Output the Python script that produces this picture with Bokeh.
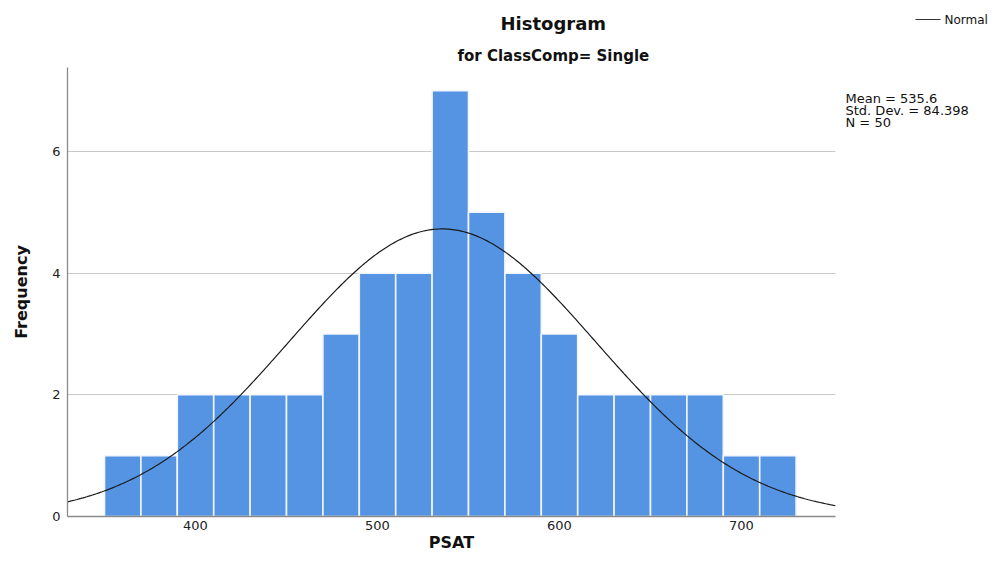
import numpy as np
from bokeh.plotting import figure
from bokeh.layouts import row
from bokeh.models import FixedTicker, Range1d, Title
from bokeh.core.properties import value
from bokeh.embed import file_html
from bokeh.resources import INLINE

# ---- data ----
bin_left = [350, 370, 390, 410, 430, 450, 470, 490, 510, 530,
            550, 570, 590, 610, 630, 650, 670, 690, 710]
bin_width = 20
counts = [1, 1, 2, 2, 2, 2, 3, 4, 4, 7, 5, 4, 3, 2, 2, 2, 2, 1, 1]
MEAN = 535.6
SD = 84.398
N = 50
x_ticks = [400, 500, 600, 700]
y_ticks = [0, 2, 4, 6]
title = "Histogram"
subtitle = "for ClassComp= Single"
stats = ["Mean = 535.6", "Std. Dev. = 84.398", "N = 50"]
x_label = "PSAT"
y_label = "Frequency"
curve_label = "Normal"

FONT = "DejaVu Sans"
X0, X1 = 329.67, 751.65
Y0, Y1 = 0, 7.38

H = 555
W_MAIN = 840
W_SIDE = 989 - W_MAIN
FL, FT = 67, 67
FR = W_MAIN - 835
FB = H - 516

p = figure(width=W_MAIN, height=H, output_backend="svg", toolbar_location=None,
           title=None, frame_align=False,
           x_range=Range1d(X0, X1), y_range=Range1d(Y0, Y1),
           min_border_left=FL, min_border_right=FR,
           min_border_top=FT, min_border_bottom=FB)
p.outline_line_color = None
p.background_fill_color = "white"
p.border_fill_color = "white"

# bars
lefts = np.array(bin_left, dtype=float)
p.quad(left=lefts, right=lefts + bin_width, bottom=0, top=counts,
       fill_color="#5594E2", line_color="#F2F6FC", line_width=1.6)

# normal curve from the shown statistics
xs = np.linspace(X0, X1, 400)
ys = N * bin_width / (SD * np.sqrt(2 * np.pi)) * np.exp(-0.5 * ((xs - MEAN) / SD) ** 2)
p.line(xs, ys, line_color="#1a1a1a", line_width=1.2)

# axes
p.xaxis.ticker = FixedTicker(ticks=x_ticks)
p.yaxis.ticker = FixedTicker(ticks=y_ticks)
for ax in (p.xaxis, p.yaxis):
    ax.major_tick_line_color = None
    ax.minor_tick_line_color = None
    ax.major_tick_out = 0
    ax.major_tick_in = 0
    ax.axis_line_color = "#8a8a8a"
    ax.axis_line_width = 1.3
    ax.major_label_text_font = FONT
    ax.major_label_text_font_size = "13px"
    ax.major_label_text_color = "#222222"
    ax.axis_label_text_font = FONT
    ax.axis_label_text_font_style = "bold"
    ax.axis_label_text_color = "#111111"
p.xaxis.major_label_standoff = 4
p.yaxis.major_label_standoff = 7
p.xaxis.axis_label = x_label
p.yaxis.axis_label = y_label
p.xaxis.axis_label_text_font_size = "16px"
p.yaxis.axis_label_text_font_size = "16px"
p.xaxis.axis_label_standoff = 0
p.yaxis.axis_label_standoff = 18

p.xgrid.grid_line_color = None
p.ygrid.grid_line_color = "#c8c8c8"
p.ygrid.grid_line_width = 1.2

# titles (first added sits closest to the plot)
p.add_layout(Title(text=subtitle, align="left", offset=390, standoff=6,
                   text_font=FONT, text_font_style="bold", text_font_size="15px",
                   text_color="#111111"), "above")
p.add_layout(Title(text=title, align="left", offset=433, standoff=16,
                   text_font=FONT, text_font_style="bold", text_font_size="18px",
                   text_color="#111111"), "above")

# side panel: legend for the curve and the statistics
s = figure(width=W_SIDE, height=H, output_backend="svg", toolbar_location=None,
           frame_align=False,
           x_range=Range1d(0, W_SIDE), y_range=Range1d(H, 0), min_border=0)
s.axis.visible = False
s.grid.visible = False
s.outline_line_color = None
s.background_fill_color = "white"
s.border_fill_color = "white"

OX = W_MAIN  # side panel starts at this page x
s.segment(x0=[915 - OX], y0=[19], x1=[940 - OX], y1=[19],
          line_color="#333333", line_width=1.2)
s.text(x=[944 - OX], y=[19], text=[curve_label], text_font=value(FONT),
       text_font_size="12px", text_baseline="middle", text_align="left",
       text_color="#111111")
s.text(x=[845 - OX] * len(stats), y=[98 + 12 * i for i in range(len(stats))],
       text=stats, text_font=value(FONT), text_font_size="13px",
       text_baseline="middle", text_align="left", text_color="#111111",
       text_line_height=1.0)

layout = row(p, s)
open("out.html", "w").write(file_html(layout, INLINE))
